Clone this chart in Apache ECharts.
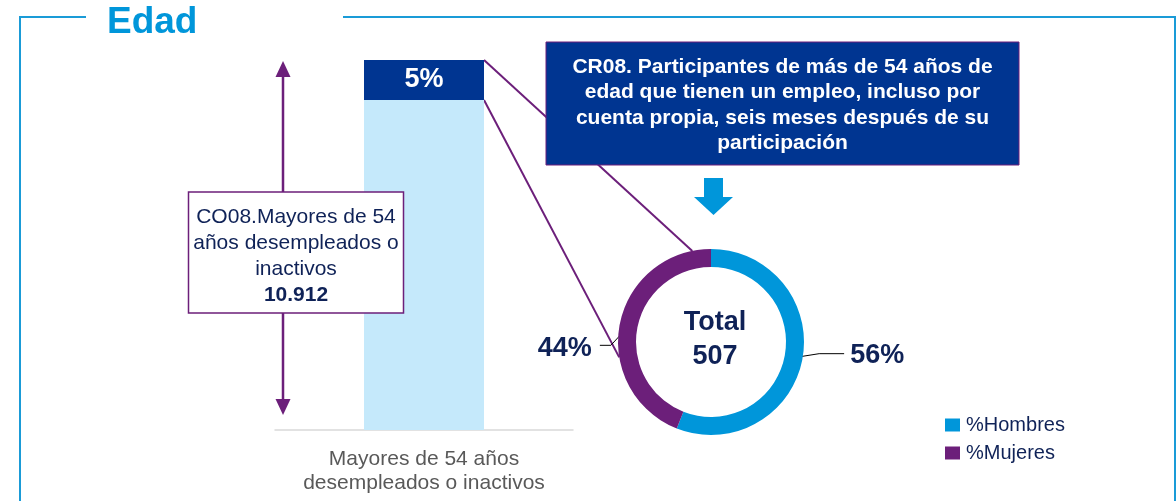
<!DOCTYPE html>
<html><head><meta charset="utf-8">
<script src="https://cdn.jsdelivr.net/npm/echarts@6/dist/echarts.min.js"></script>
<style>html,body{margin:0;padding:0;background:#fff}#c{width:1176px;height:501px}</style>
</head><body><div id="c"></div>
<script>
// ---- data ----
const barCategories = ['Mayores de 54 años\ndesempleados o inactivos'];
const co08Values = [10912];          // CO08 participants
const cr08ShareLabels = ['5%'];      // share shown on top of bar
const donutCategories = ['%Hombres', '%Mujeres'];
const donutValues = [56, 44];
const donutTotal = [507];
const titleText = ['Edad'];
const co08Text = ['CO08.Mayores de 54', 'años desempleados o', 'inactivos'];
const cr08Text = ['CR08. Participantes de más de 54 años de', 'edad que tienen un empleo, incluso por', 'cuenta propia, seis meses después de su', 'participación'];

// ---- styles ----
const font = "'Liberation Sans', Arial, sans-serif";
const navy = '#0F2257';
const purple = '#6C1F7A';
const blue = '#0096DA';
const darkBlue = '#003591';
const lightBlue = '#C5E9FB';
const frameBlue = '#1A9BD7';

const fmtNum = v => String(v).replace(/\B(?=(\d{3})+(?!\d))/g, '.');

const chart = echarts.init(document.getElementById('c'), null, {renderer: 'canvas'});
const pieCenter = [711, 342];
const pieR = [75, 93];

// nudge donut labels / leader lines to match the original layout
function donutLabelLayout(p) {
  const pts = p.labelLinePoints;
  const r = p.labelRect;
  if (!pts || !r) return {};
  const p0 = pts[0];
  const dx = p0[0] - pieCenter[0], dy0 = p0[1] - pieCenter[1];
  const len = Math.sqrt(dx * dx + dy0 * dy0) || 1;
  const start = [p0[0] - dx / len * 9, p0[1] - dy0 / len * 9];
  if (p.dataIndex === 0) {
    const shift = -3;
    const cy = r.y + r.height / 2 + shift;
    const end = [r.x - 6, cy - 2];
    return {dy: shift, labelLinePoints: [start, [end[0] - 25, end[1]], end]};
  } else {
    const shift = 13;
    const cy = r.y + r.height / 2 + shift;
    const end = [r.x + r.width + 8, cy - 3];
    return {dy: shift, labelLinePoints: [start, [end[0] + 11, end[1]], end]};
  }
}

chart.setOption({
  animation: false,
  textStyle: {fontFamily: font},
  grid: {left: 275, width: 298, top: 60, bottom: 71},
  xAxis: {
    type: 'category', data: barCategories,
    axisTick: {show: false},
    axisLine: {lineStyle: {color: '#D9D9D9', width: 1.5}},
    axisLabel: {fontSize: 21, color: '#595959', lineHeight: 24, margin: 17, fontFamily: font}
  },
  yAxis: {type: 'value', min: 0, max: co08Values[0], show: false},
  legend: {
    data: donutCategories, orient: 'vertical', left: 940, top: 410,
    itemWidth: 15, itemHeight: 13, itemGap: 8, icon: 'rect',
    textStyle: {fontSize: 20, color: navy, fontFamily: font, padding: [0, 0, 0, 1]}
  },
  series: [
    {
      type: 'bar', data: co08Values, barWidth: 120, silent: true, z: 2,
      itemStyle: {color: lightBlue},
      label: {
        show: true, position: 'insideTop', distance: 0,
        formatter: () => cr08ShareLabels[0],
        backgroundColor: darkBlue, width: 120, height: 40, lineHeight: 40,
        align: 'center', color: '#fff', fontSize: 27, fontWeight: 'bold', padding: 0, fontFamily: font
      }
    },
    {
      type: 'pie', name: 'CR08', center: pieCenter, radius: pieR,
      startAngle: 90, clockwise: true, silent: true, z: 3,
      data: donutCategories.map((n, i) => ({
        name: n, value: donutValues[i],
        itemStyle: {color: i === 0 ? blue : purple},
        labelLine: {length: 12, length2: i === 0 ? 31 : 11}
      })),
      label: {
        show: true, position: 'outside', formatter: '{c}%', alignTo: 'none',
        fontSize: 27, fontWeight: 'bold', color: navy, fontFamily: font, distanceToLabelLine: 5
      },
      labelLine: {show: true, lineStyle: {color: '#000', width: 1}},
      labelLayout: donutLabelLayout
    }
  ]
});

// ---- annotations (derived from the bar position and donut geometry) ----
const barTopPx = chart.convertToPixel({seriesIndex: 0}, [0, co08Values[0]]);
const barRight = barTopPx[0] + 60;
const barTop = barTopPx[1];
const darkBottom = barTop + 40;
const onRing = deg => [pieCenter[0] + pieR[1] * Math.sin(deg * Math.PI / 180),
                       pieCenter[1] - pieR[1] * Math.cos(deg * Math.PI / 180)];
const p1 = onRing(-11.6);
const p2 = onRing(-99.5);

const ax = 283;
chart.setOption({
  graphic: [
    // frame
    {type: 'polyline', z: 1, shape: {points: [[86, 17], [20, 17], [20, 501]]}, style: {stroke: frameBlue, lineWidth: 2, fill: null}},
    {type: 'polyline', z: 1, shape: {points: [[343, 17], [1175, 17], [1175, 501]]}, style: {stroke: frameBlue, lineWidth: 2, fill: null}},
    {type: 'text', z: 5, style: {text: titleText[0], x: 107, y: 23, verticalAlign: 'middle', align: 'left',
      font: "bold 37px 'Liberation Sans', Arial, sans-serif", fill: blue}},
    // connector lines
    {type: 'line', z: 1, shape: {x1: barRight, y1: barTop, x2: p1[0], y2: p1[1]}, style: {stroke: purple, lineWidth: 2}},
    {type: 'line', z: 1, shape: {x1: barRight, y1: darkBottom, x2: p2[0], y2: p2[1]}, style: {stroke: purple, lineWidth: 2}},
    // double arrow
    {type: 'line', z: 4, shape: {x1: ax, y1: 76, x2: ax, y2: 401}, style: {stroke: purple, lineWidth: 2.5}},
    {type: 'polygon', z: 4, shape: {points: [[ax, 61], [ax - 7.5, 77], [ax + 7.5, 77]]}, style: {fill: purple}},
    {type: 'polygon', z: 4, shape: {points: [[ax, 415], [ax - 7.5, 399], [ax + 7.5, 399]]}, style: {fill: purple}},
    // CO08 box
    {type: 'rect', z: 10, shape: {x: 188.5, y: 192, width: 215, height: 121}, style: {fill: '#fff', stroke: purple, lineWidth: 1.5}},
    {type: 'text', z: 11, style: {
      text: co08Text.join('\n') + '\n{b|' + fmtNum(co08Values[0]) + '}',
      x: 296, y: 256, align: 'center', verticalAlign: 'middle',
      font: "21px 'Liberation Sans', Arial, sans-serif", lineHeight: 26, fill: navy,
      rich: {b: {fontWeight: 'bold', fontSize: 21, fontFamily: font, fill: navy, lineHeight: 26}}
    }},
    // CR08 box
    {type: 'rect', z: 10, shape: {x: 546, y: 42, width: 473, height: 123}, style: {fill: darkBlue, stroke: purple, lineWidth: 1}},
    {type: 'text', z: 11, style: {
      text: cr08Text.join('\n'), x: 782.5, y: 105, align: 'center', verticalAlign: 'middle',
      font: "bold 21px 'Liberation Sans', Arial, sans-serif", lineHeight: 25.5, fill: '#fff'
    }},
    // down arrow
    {type: 'polygon', z: 10, shape: {points: [[704, 178], [723, 178], [723, 197], [733, 197], [713.5, 215], [694, 197], [704, 197]]}, style: {fill: blue}},
    // donut centre
    {type: 'text', z: 11, style: {
      text: 'Total\n' + donutTotal[0], x: 715, y: 340, align: 'center', verticalAlign: 'middle',
      font: "bold 27px 'Liberation Sans', Arial, sans-serif", lineHeight: 34, fill: navy
    }}
  ]
});
</script></body></html>
